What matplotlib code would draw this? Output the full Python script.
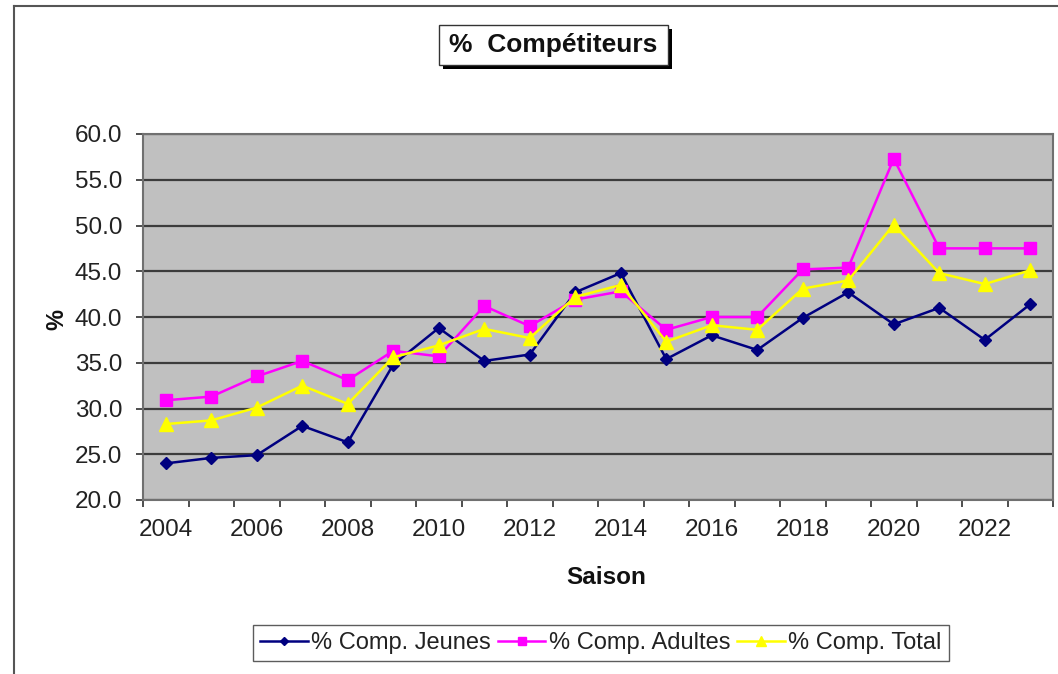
import numpy as np
import matplotlib
matplotlib.use("Agg")
import matplotlib.pyplot as plt
from matplotlib.patches import Rectangle
from matplotlib.lines import Line2D

plt.rcParams['font.family'] = ['Liberation Sans', 'DejaVu Sans']

# --- data ---
saisons = list(range(2004, 2024))
jeunes = [24.0, 24.6, 24.9, 28.1, 26.3, 34.8, 38.8, 35.2, 35.9, 42.7,
          44.8, 35.4, 38.0, 36.4, 39.9, 42.7, 39.2, 41.0, 37.5, 41.4]
adultes = [30.9, 31.3, 33.5, 35.2, 33.1, 36.3, 35.7, 41.2, 39.0, 41.9,
           42.8, 38.6, 40.0, 40.0, 45.2, 45.4, 57.3, 47.5, 47.5, 47.5]
total = [28.3, 28.7, 30.1, 32.5, 30.5, 35.6, 36.9, 38.7, 37.7, 42.2,
         43.5, 37.3, 39.1, 38.6, 43.1, 44.0, 50.1, 44.8, 43.6, 45.1]
yticks = [20, 25, 30, 35, 40, 45, 50, 55, 60]

W, H = 1058, 674
fig = plt.figure(figsize=(W / 100, H / 100), dpi=100)

def fx(px):
    return px / W

def fy(py):
    return 1 - py / H

# outer chart frame (only left and top edges visible in the crop)
fig.add_artist(Line2D([fx(14), fx(14)], [0, fy(6)], color='#555555', lw=1.5))
fig.add_artist(Line2D([fx(14), 1], [fy(6), fy(6)], color='#555555', lw=1.5))

ax = fig.add_axes([fx(143), fy(500), fx(1053 - 143), (500 - 134) / H])
ax.set_facecolor('#C0C0C0')

x = np.arange(len(saisons))
ax.plot(x, jeunes, color='#000080', marker='D', markersize=6.5, lw=1.8,
        label='% Comp. Jeunes', zorder=3)
ax.plot(x, adultes, color='#FF00FF', marker='s', markersize=8, lw=1.8,
        label='% Comp. Adultes', zorder=3)
ax.plot(x, total, color='#FFFF00', marker='^', markersize=9.5, lw=1.8,
        label='% Comp. Total', zorder=3)

ax.set_xlim(-0.5, len(saisons) - 0.5)
ax.set_ylim(20, 60)
ax.set_yticks(yticks)
ax.set_yticklabels([f"{v:.1f}" for v in yticks], fontsize=17.5, color='#222222')
ax.yaxis.grid(True, color='#3c3c3c', lw=1.6)
ax.set_axisbelow(True)

# category axis: tick marks between categories, labels every other year
ax.set_xticks(x[::2])
ax.set_xticklabels([str(s) for s in saisons[::2]], fontsize=17.5, color='#222222')
ax.tick_params(axis='x', which='major', length=0, pad=14)
ax.set_xticks(np.arange(-0.5, len(saisons)), minor=True)
ax.tick_params(axis='x', which='minor', length=5, width=1.3, color='#404040')
ax.tick_params(axis='y', length=5, width=1.3, color='#404040', pad=10)

for s in ax.spines.values():
    s.set_color('#707070')
    s.set_linewidth(1.5)

fig.text(fx(606), fy(577), 'Saison', fontsize=17.5, fontweight='bold',
         ha='center', va='center', color='#111111')
fig.text(fx(57), fy(320), '%', fontsize=17, fontweight='bold', rotation=90,
         ha='center', va='center', color='#111111')

# title with Excel-style shadow box
fig.add_artist(Rectangle((fx(443), fy(69)), fx(229), 40 / H, fc='black',
                         ec='none', transform=fig.transFigure))
fig.add_artist(Rectangle((fx(439), fy(65)), fx(229), 40 / H, fc='white',
                         ec='#333333', lw=1, transform=fig.transFigure))
fig.text(fx(553), fy(45), '%  Compétiteurs', fontsize=19, fontweight='bold',
         ha='center', va='center', color='#111111')

leg = fig.legend(loc='center', bbox_to_anchor=(fx(601), fy(643)), ncol=3,
                 fontsize=17, frameon=True, fancybox=False, edgecolor='#333333',
                 handlelength=2.0, handletextpad=0.15, columnspacing=0.3,
                 borderpad=0.3, borderaxespad=0, markerscale=0.7)
leg.get_frame().set_linewidth(1)
for t in leg.get_texts():
    t.set_color('#222222')

fig.savefig('out.png', dpi=100)
